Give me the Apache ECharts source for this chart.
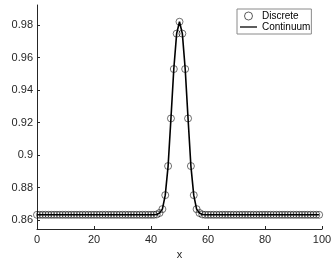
<!DOCTYPE html>
<html><head><meta charset="utf-8">
<script src="https://cdn.jsdelivr.net/npm/echarts@6/dist/echarts.min.js"></script>
<style>html,body{margin:0;padding:0;background:#fff}#c{width:333px;height:260px}</style>
</head><body><div id="c"></div>
<script>
const xValues = [0,1,2,3,4,5,6,7,8,9,10,11,12,13,14,15,16,17,18,19,20,21,22,23,24,25,26,27,28,29,30,31,32,33,34,35,36,37,38,39,40,41,42,43,44,45,46,47,48,49,50,51,52,53,54,55,56,57,58,59,60,61,62,63,64,65,66,67,68,69,70,71,72,73,74,75,76,77,78,79,80,81,82,83,84,85,86,87,88,89,90,91,92,93,94,95,96,97,98,99];
const discreteY = [
0.8632,0.8632,0.8632,0.8632,0.8632,0.8632,0.8632,0.8632,0.8632,0.8632,
0.8632,0.8632,0.8632,0.8632,0.8632,0.8632,0.8632,0.8632,0.8632,0.8632,
0.8632,0.8632,0.8632,0.8632,0.8632,0.8632,0.8632,0.8632,0.8632,0.8632,
0.8632,0.8632,0.8632,0.8632,0.8632,0.8632,0.8632,0.8632,0.8632,0.8632,
0.8632,0.8632,0.8634,0.8643,0.8667,0.8753,0.8932,0.9225,0.9529,0.9747,
0.9820,0.9747,0.9529,0.9225,0.8932,0.8753,0.8667,0.8643,0.8634,0.8632,
0.8632,0.8632,0.8632,0.8632,0.8632,0.8632,0.8632,0.8632,0.8632,0.8632,
0.8632,0.8632,0.8632,0.8632,0.8632,0.8632,0.8632,0.8632,0.8632,0.8632,
0.8632,0.8632,0.8632,0.8632,0.8632,0.8632,0.8632,0.8632,0.8632,0.8632,
0.8632,0.8632,0.8632,0.8632,0.8632,0.8632,0.8632,0.8632,0.8632,0.8632];
const continuumY = discreteY.slice();
const yTicks = [0.86,0.88,0.9,0.92,0.94,0.96,0.98];
const seriesNames = ['Discrete','Continuum'];

const font = 'Liberation Sans, Arial, sans-serif';
const axisCol = '#262626';
const chart = echarts.init(document.getElementById('c'), null, {renderer:'canvas'});
chart.setOption({
  animation:false,
  backgroundColor:'#fff',
  grid:{left:37,right:11,top:5,bottom:31,containLabel:false,outerBoundsMode:'none'},
  xAxis:{type:'value',min:0,max:100,interval:20,
    name:'x',nameLocation:'middle',nameGap:17,
    nameTextStyle:{fontFamily:font,fontSize:11,color:axisCol},
    axisLine:{lineStyle:{color:axisCol,width:1}},
    axisTick:{inside:true,length:3,lineStyle:{color:axisCol}},
    axisLabel:{fontFamily:font,fontSize:11,color:axisCol,margin:5},
    splitLine:{show:false}},
  yAxis:{type:'value',min:0.85446,max:0.99231,
    name:'y',nameLocation:'middle',nameGap:33,nameRotate:90,
    nameTextStyle:{fontFamily:font,fontSize:11,color:axisCol},
    axisLine:{show:true,lineStyle:{color:axisCol,width:1}},
    axisTick:{show:true,inside:true,length:3,lineStyle:{color:axisCol},customValues:yTicks},
    axisLabel:{fontFamily:font,fontSize:11,color:axisCol,margin:4,customValues:yTicks,
      formatter:v=>String(+v.toFixed(2))},
    splitLine:{show:false}},
  legend:{orient:'vertical',left:237,top:9,padding:[2,1,2,3],itemGap:1,
    itemWidth:17,itemHeight:8,
    borderColor:'#8a8a8a',borderWidth:1,backgroundColor:'#fff',
    textStyle:{fontFamily:font,fontSize:10,color:'#000'},
    data:[{name:seriesNames[0],icon:'circle',itemStyle:{color:'rgba(0,0,0,0)',borderColor:'#000',borderWidth:0.8}},
          {name:seriesNames[1],icon:'path://M0,0L20,0L20,1.5L0,1.5Z',itemStyle:{color:'#000'}}]},
  series:[
    {name:seriesNames[1],type:'line',data:xValues.map((x,i)=>[x,continuumY[i]]),
     showSymbol:false,symbol:'none',lineStyle:{color:'#000',width:1.6},itemStyle:{color:'#000'},z:2},
    {name:seriesNames[0],type:'scatter',data:xValues.map((x,i)=>[x,discreteY[i]]),
     symbol:'circle',symbolSize:7,
     itemStyle:{color:'rgba(0,0,0,0)',borderColor:'#000',borderWidth:0.7},z:3}
  ]
});
</script></body></html>
